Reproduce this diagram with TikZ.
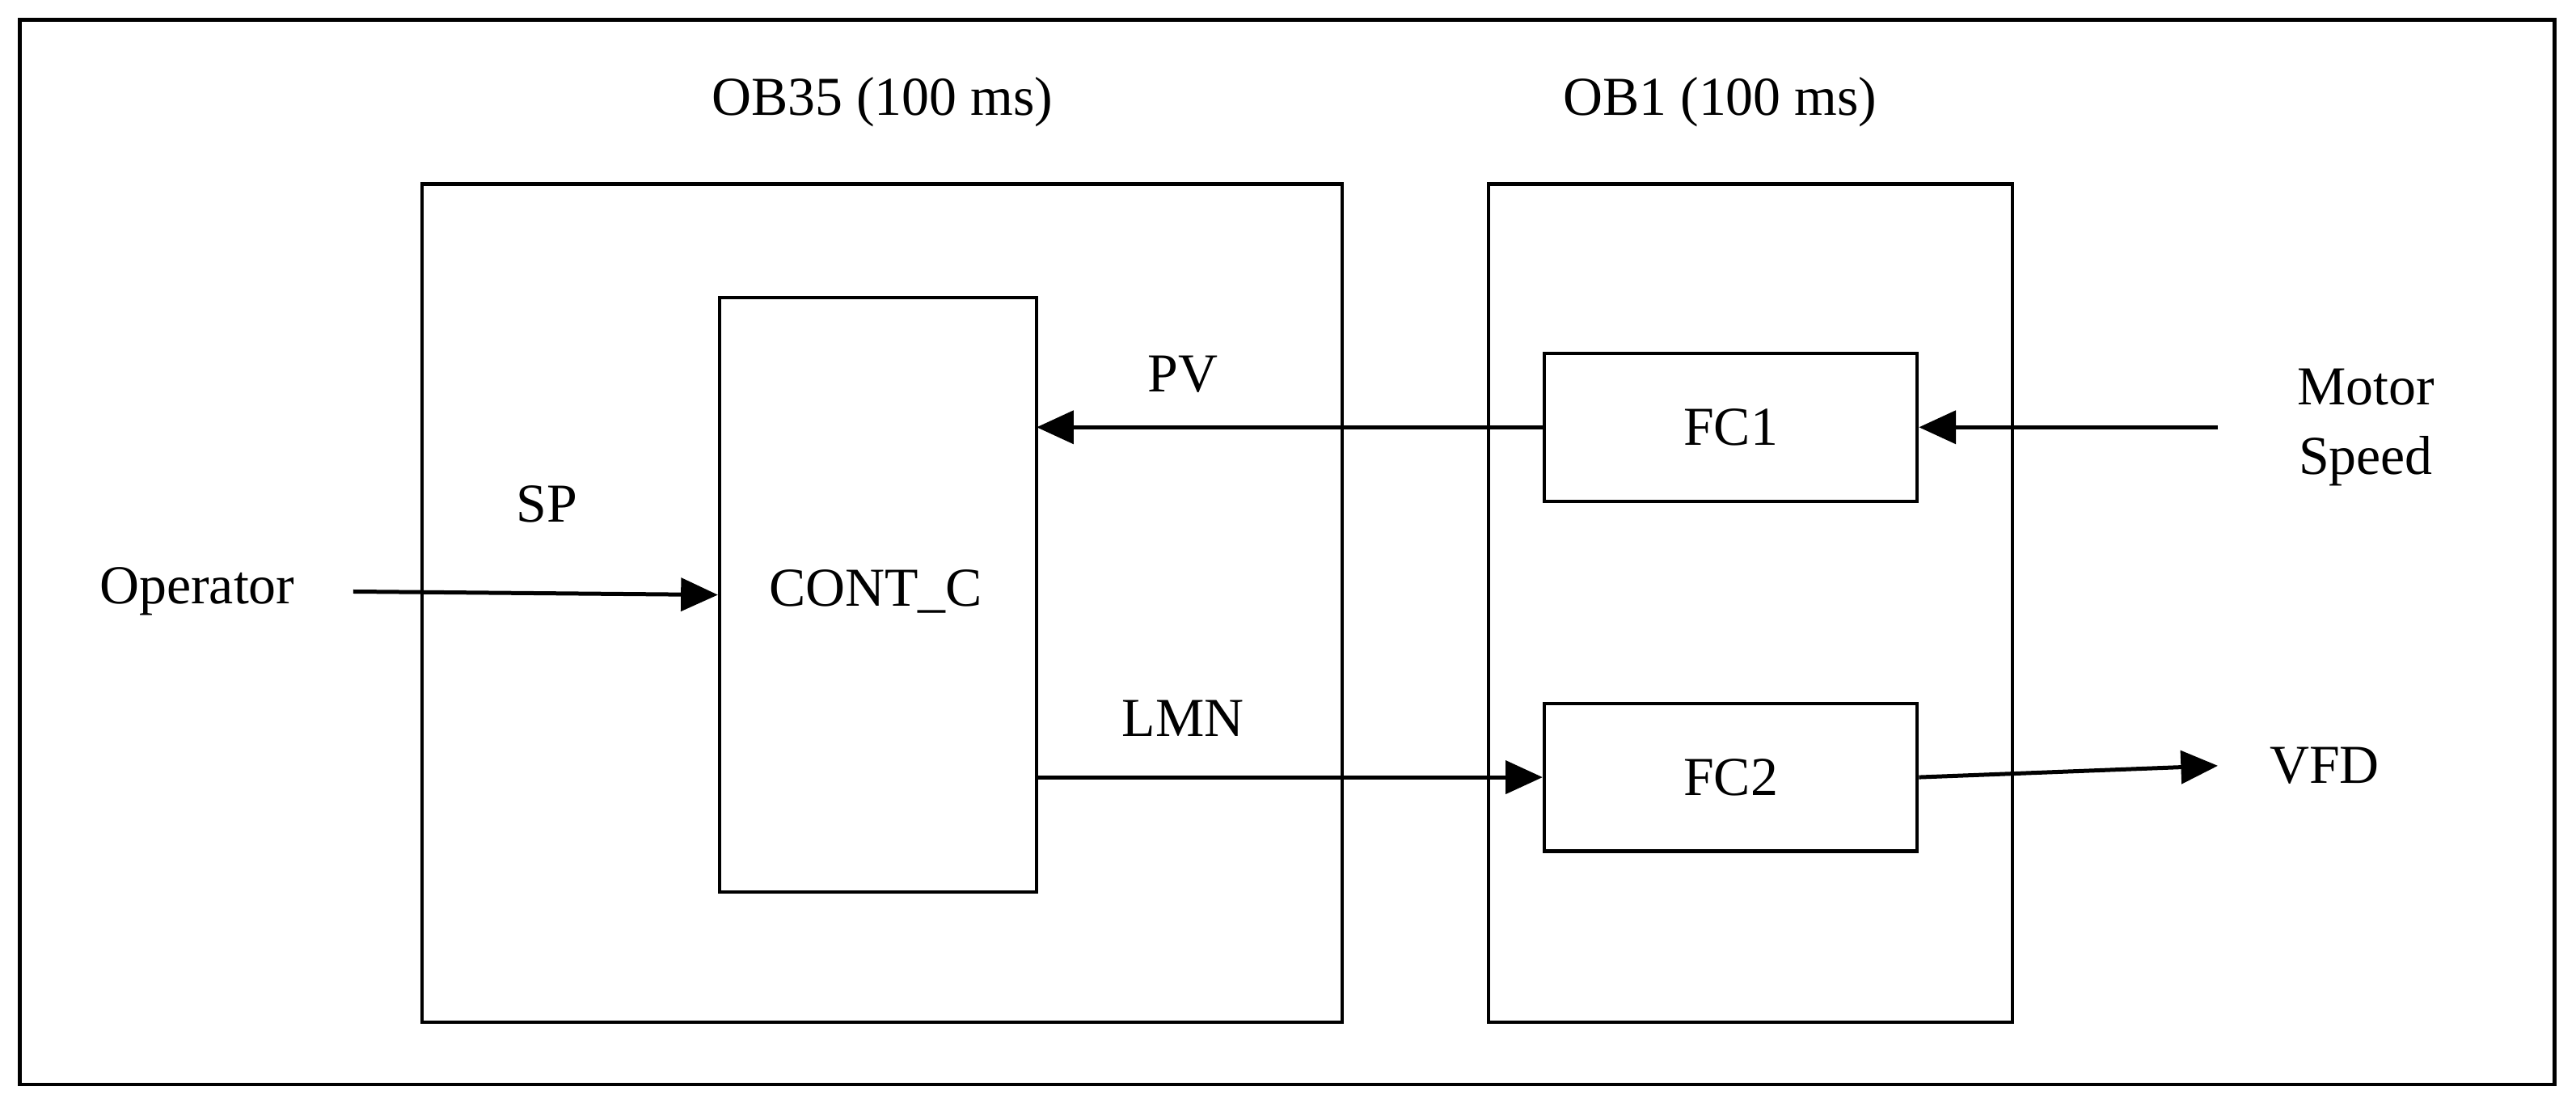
\documentclass[tikz,border=0pt]{standalone}
\usepackage{fontspec}
\setmainfont{Liberation Serif}
\usetikzlibrary{arrows.meta}
\tikzset{
  blk/.style={draw=black, line width=1.2pt, inner sep=0pt},
  lbl/.style={font=\fontsize{19}{22}\selectfont, inner sep=0pt},
  arrow/.style={draw, line width=1.4pt, -{Triangle[length=0.45cm,width=0.4cm]}}
}
\begin{document}
\begin{tikzpicture}[x=0.02cm, y=-0.02cm]
  \useasboundingbox (0,0) rectangle (1568,666);
  \draw[line width=1.2pt] (12,12) rectangle (1555,660);
  % blocks
  \draw[blk] (257,112) rectangle (817,622);
  \draw[blk] (906,112) rectangle (1225,622);
  \node[blk, minimum width=3.86cm, minimum height=7.24cm] (cont) at (534.5,362) {};
  \node[lbl] at (533,360) {CONT\_C};
  \node[blk, minimum width=4.54cm, minimum height=1.8cm, lbl] (fc1) at (1053.5,260) {FC1};
  \node[blk, minimum width=4.54cm, minimum height=1.8cm, lbl] (fc2) at (1053.5,473) {FC2};
  % titles
  \node[lbl] (ob35) at (537,62) {OB35 (100 ms)};
  \node[lbl] (ob1) at (1047,62) {OB1 (100 ms)};
  % signals
  \node[lbl, align=center] (motor) at (1440,260) {Motor\\[2pt]Speed};
  \node[lbl] (op) at (120,360) {Operator};
  \node[lbl] (vfd) at (1415,466) {VFD};
  \coordinate (ms) at (1350,260);
  \coordinate (vfdin) at (1350,466);
  \coordinate (opout) at (215,360);
  \draw[arrow] (ms) -- (fc1.east);
  \draw[arrow] (fc1.west) -- (631,260);
  \draw[arrow] (opout) -- (cont.west);
  \draw[arrow] (631,473) -- (fc2.west);
  \draw[arrow] (fc2.east) -- (vfdin);
  \node[lbl] at (720,228) {PV};
  \node[lbl] at (333,307) {SP};
  \node[lbl] at (720,437) {LMN};
\end{tikzpicture}
\end{document}
